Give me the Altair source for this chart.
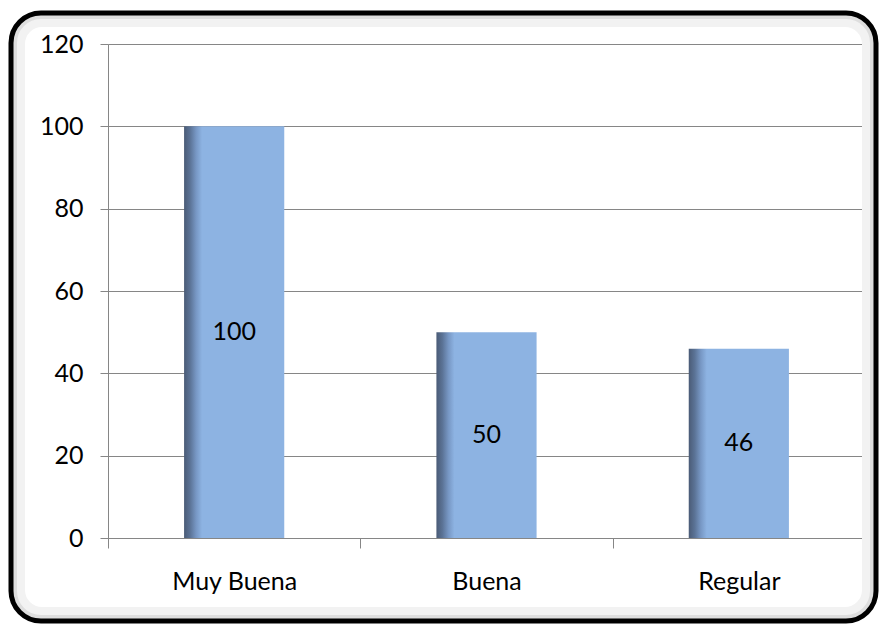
import altair as alt
import pandas as pd

categories = ["Muy Buena", "Buena", "Regular"]
values = [100, 50, 46]
y_ticks = [0, 20, 40, 60, 80, 100, 120]

df = pd.DataFrame({"cat": categories, "value": values})

W, H = 757, 494
FONT = "Lato"
FS = 25

x_enc = alt.X("cat:N", sort=categories, title=None,
              scale=alt.Scale(paddingInner=0, paddingOuter=0),
              axis=alt.Axis(tickBand="extent", labelAngle=0, labelFontSize=FS,
                            labelFont=FONT, labelColor="#000000", labelPadding=21,
                            tickSize=10, tickColor="#868686", domainColor="#868686",
                            grid=False))
y_enc = alt.Y("value:Q", title=None,
              scale=alt.Scale(domain=[0, 120], nice=False),
              axis=alt.Axis(values=y_ticks, labelFontSize=FS, labelFont=FONT,
                            labelColor="#000000", labelPadding=17, tickSize=8,
                            tickColor="#868686", domainColor="#868686",
                            gridColor="#868686", grid=True))

grad = alt.Gradient(
    gradient="linear", x1=0, x2=1, y1=0, y2=0,
    stops=[
        alt.GradientStop(offset=0, color="#4a5b76"),
        alt.GradientStop(offset=0.06, color="#5b7396"),
        alt.GradientStop(offset=0.12, color="#7797c4"),
        alt.GradientStop(offset=0.18, color="#8db3e2"),
        alt.GradientStop(offset=1, color="#8db3e2"),
    ],
)

bars = alt.Chart(df).mark_bar(color=grad, width=alt.RelativeBandSize(0.397)).encode(
    x=x_enc, y=y_enc
)

labels = alt.Chart(df).transform_calculate(mid="datum.value / 2").mark_text(
    font=FONT, fontSize=FS, color="#000000", baseline="middle", align="center"
).encode(
    x=alt.X("cat:N", sort=categories),
    y=alt.Y("mid:Q"),
    text=alt.Text("value:Q"),
)

frame_df = pd.DataFrame({"k": [0]})
glow2 = alt.Chart(frame_df).mark_rect(
    filled=False, stroke="#f2f2f2", strokeWidth=10, cornerRadius=22
).encode(
    x=alt.value(-88), x2=alt.value(W + 2), y=alt.value(-22), y2=alt.value(H + 74)
)
glow = alt.Chart(frame_df).mark_rect(
    filled=False, stroke="#dedede", strokeWidth=4, cornerRadius=26
).encode(
    x=alt.value(-93), x2=alt.value(W + 7), y=alt.value(-27), y2=alt.value(H + 79)
)
frame = alt.Chart(frame_df).mark_rect(
    filled=False, stroke="#000000", strokeWidth=5, cornerRadius=30
).encode(
    x=alt.value(-97), x2=alt.value(W + 11), y=alt.value(-31), y2=alt.value(H + 83)
)

chart = alt.layer(glow2, glow, bars, labels, frame).properties(
    width=W, height=H,
    autosize=alt.AutoSizeParams(type="none"),
    padding={"left": 100, "top": 36, "right": 14, "bottom": 88},
).configure_view(stroke=None).configure(background="white")

chart.save("out.html", embed_options={"renderer": "svg", "actions": False})
